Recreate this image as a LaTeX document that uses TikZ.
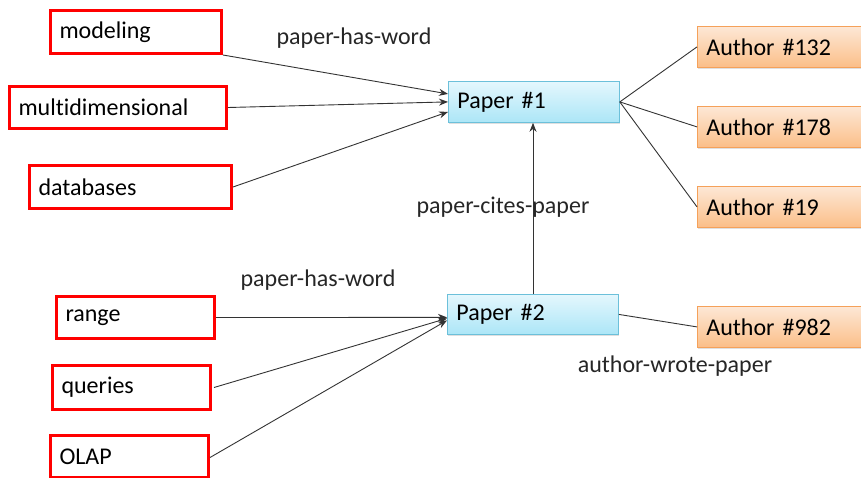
\documentclass[tikz,border=0pt]{standalone}
\usepackage{fontspec}
\setmainfont{Carlito}[Ligatures={NoCommon}]
\usetikzlibrary{arrows.meta,shadows}
\definecolor{ptop}{HTML}{E4F7FD}
\definecolor{pbot}{HTML}{ACE6F7}
\definecolor{pborder}{HTML}{6CC0DA}
\definecolor{atop}{HTML}{FDE8D6}
\definecolor{abot}{HTML}{FBBE88}
\definecolor{aborder}{HTML}{F5A15A}
\begin{document}
\begin{tikzpicture}[x=1pt,y=-1pt,
  every node/.style={font=\fontsize{24}{28}\selectfont},
  wordbox/.style={draw=red,line width=3pt,fill=white,inner xsep=9pt,inner ysep=0pt,align=left,anchor=north west},
  paperbox/.style={draw=pborder,line width=0.8pt,top color=ptop,bottom color=pbot,
     inner xsep=9pt,inner ysep=0pt,align=left,anchor=north west,drop shadow={shadow xshift=1pt,shadow yshift=-1.5pt,opacity=0.25}},
  authorbox/.style={draw=aborder,line width=0.8pt,top color=atop,bottom color=abot,
     inner xsep=9pt,inner ysep=0pt,align=left,anchor=north west,drop shadow={shadow xshift=1pt,shadow yshift=-1.5pt,opacity=0.25}},
  conn/.style={draw=black!80,line width=0.9pt},
  arr/.style={conn,-{Stealth[length=9pt,width=7pt]}},
  lbl/.style={font=\fontsize{24}{28}\selectfont,text=black!85}]
\useasboundingbox (0,0) rectangle (861,477);
% word boxes
\node[wordbox,minimum width=171pt,minimum height=43pt,text width=153pt] (modeling) at (49,9) {modeling};
\node[wordbox,minimum width=217pt,minimum height=42pt,text width=199pt] (multi) at (8,85) {multidimensional};
\node[wordbox,minimum width=202pt,minimum height=43pt,text width=184pt] (databases) at (28,164) {databases};
\node[wordbox,minimum width=158pt,minimum height=42pt,text width=140pt] (range) at (55,295) {range};
\node[wordbox,minimum width=158pt,minimum height=44pt,text width=140pt] (queries) at (51,364) {queries};
\node[wordbox,minimum width=158pt,minimum height=42pt,text width=140pt] (olap) at (49,434) {OLAP};
% papers
\node[paperbox,minimum width=171pt,minimum height=41pt,text width=153pt] (p1) at (448,81) {Paper \#1};
\node[paperbox,minimum width=171pt,minimum height=40pt,text width=153pt] (p2) at (447,294) {Paper \#2};
% authors
\node[authorbox,minimum width=170pt,minimum height=41pt,text width=152pt] (a132) at (697,26) {Author \#132};
\node[authorbox,minimum width=170pt,minimum height=41pt,text width=152pt] (a178) at (697,106) {Author \#178};
\node[authorbox,minimum width=170pt,minimum height=41pt,text width=152pt] (a19) at (697,186) {Author \#19};
\node[authorbox,minimum width=170pt,minimum height=41pt,text width=152pt] (a982) at (697,306) {Author \#982};
% connectors
\draw[arr] (modeling.south east) -- ([yshift=8pt]p1.west);
\draw[arr] (multi.east) -- ([yshift=0pt]p1.west);
\draw[arr] (databases.east) -- ([yshift=-10pt]p1.west);
\draw[conn] (p1.east) -- (a132.west);
\draw[conn] (p1.east) -- (a178.west);
\draw[conn] (p1.east) -- (a19.west);
\draw[arr] (p2.north -| 533,0) -- (p1.south -| 533,0);
\draw[arr] (range.east) -- ([yshift=-3pt]p2.west);
\draw[arr] ([xshift=2pt]queries.east) -- ([yshift=-4pt]p2.west);
\draw[arr] ([yshift=-1pt]olap.east) -- ([yshift=-6pt]p2.west);
\draw[conn] (p2.east) -- (a982.west);
% labels
\node[lbl] (l1) at (354,38) {paper-has-word};
\node[lbl] (l2) at (503,207) {paper-cites-paper};
\node[lbl] (l3) at (318,280) {paper-has-word};
\node[lbl] (l4) at (675,366) {author-wrote-paper};
\end{tikzpicture}
\end{document}
